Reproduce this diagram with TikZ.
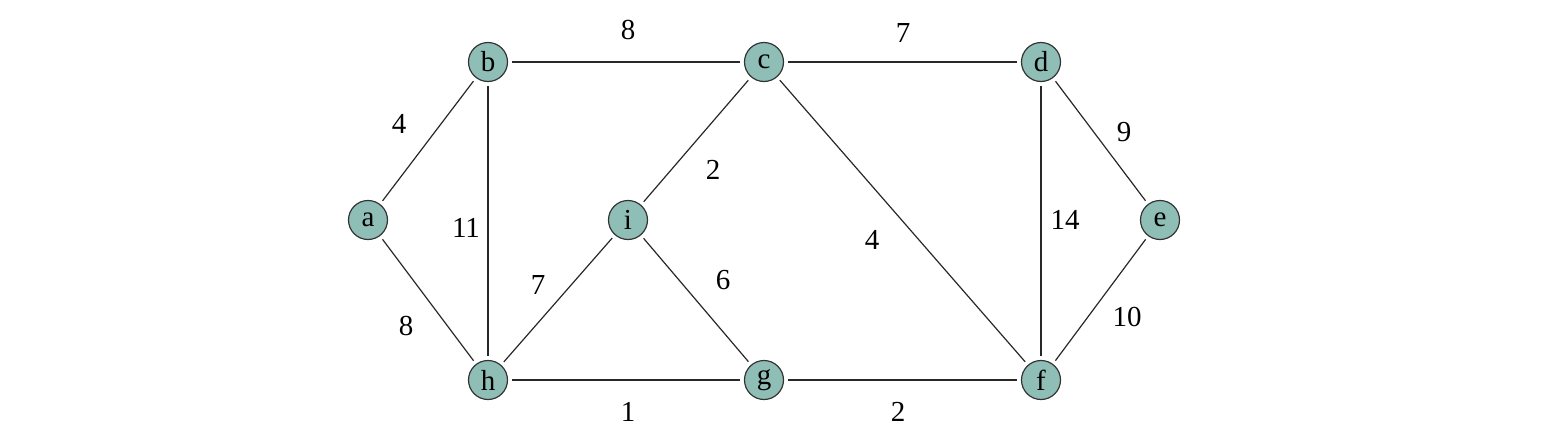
\documentclass[tikz,border=0pt]{standalone}
\usepackage{fontspec}
\setmainfont{Liberation Serif}
\definecolor{nodefill}{RGB}{143,190,183}
\definecolor{edgecol}{RGB}{40,40,40}
\begin{document}
\begin{tikzpicture}[x=1pt,y=-1pt,
  vtx/.style={circle,draw=black!80,line width=1.2pt,fill=nodefill,minimum size=39pt,inner sep=0pt,font=\fontsize{29}{29}\selectfont},
  edge/.style={draw=edgecol,line width=1.2pt,shorten <=4pt,shorten >=4pt},
  wt/.style={font=\fontsize{29}{29}\selectfont,inner sep=0pt}]
\useasboundingbox (0,0) rectangle (1543,442);
\node[vtx] (a) at (368,220) {a};
\node[vtx] (b) at (488,62) {b};
\node[vtx] (c) at (764,62) {c};
\node[vtx] (d) at (1041,62) {d};
\node[vtx] (e) at (1160,220) {e};
\node[vtx] (i) at (628,220) {i};
\node[vtx] (h) at (488,380) {h};
\node[vtx] (g) at (764,380) {g};
\node[vtx] (f) at (1041,380) {f};
\draw[edge] (a) -- (b);
\draw[edge] (a) -- (h);
\draw[edge] (b) -- (c);
\draw[edge] (b) -- (h);
\draw[edge] (c) -- (d);
\draw[edge] (c) -- (i);
\draw[edge] (c) -- (f);
\draw[edge] (d) -- (e);
\draw[edge] (d) -- (f);
\draw[edge] (e) -- (f);
\draw[edge] (i) -- (h);
\draw[edge] (i) -- (g);
\draw[edge] (h) -- (g);
\draw[edge] (g) -- (f);
\node[wt] (w1) at (628,30) {8};
\node[wt] (w2) at (903,33) {7};
\node[wt] (w3) at (399,124) {4};
\node[wt] (w4) at (466,228) {11};
\node[wt] (w5) at (713,170) {2};
\node[wt] (w6) at (872,240) {4};
\node[wt] (w7) at (1065,220) {14};
\node[wt] (w8) at (1124,132) {9};
\node[wt] (w9) at (538,285) {7};
\node[wt] (w10) at (723,280) {6};
\node[wt] (w11) at (406,326) {8};
\node[wt] (w12) at (628,412) {1};
\node[wt] (w13) at (898,412) {2};
\node[wt] (w14) at (1127,317) {10};
\end{tikzpicture}
\end{document}
